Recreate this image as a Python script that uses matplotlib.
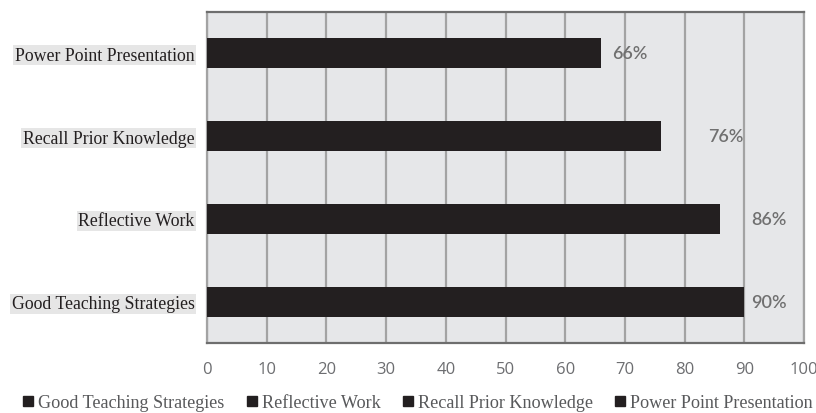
import numpy as np
import matplotlib
matplotlib.use("Agg")
import matplotlib.pyplot as plt
from matplotlib.lines import Line2D

# data (bottom to top)
categories = ["Good Teaching Strategies", "Reflective Work",
              "Recall Prior Knowledge", "Power Point Presentation"]
values = [90, 86, 76, 66]
value_labels = ["90%", "86%", "76%", "66%"]
xticks = [0, 10, 20, 30, 40, 50, 60, 70, 80, 90, 100]

# label offsets (pixels right of bar end), as in the original
label_offsets = [7, 31, 47, 11]

bar_color = "#231F20"
grid_color = "#A3A3A3"
text_gray = "#707070"

fig = plt.figure(figsize=(8.16, 4.14), dpi=100)
ax = fig.add_axes([207/816, 1 - 344/414, (804 - 207)/816, (344 - 13)/414])
ax.set_facecolor("#E6E7E9")

y = np.arange(len(categories))
ax.barh(y, values, height=0.36, color=bar_color, zorder=3)

ax.set_xlim(0, 100)
ax.set_ylim(-0.5, 3.5)
ax.set_xticks(xticks)
ax.set_xticklabels([str(t) for t in xticks], family="Open Sans", fontsize=12,
                   fontweight="normal", color="#6D6E71")
ax.tick_params(axis="x", length=0, pad=13)
ax.tick_params(axis="y", length=0, pad=9)
ax.set_yticks(y)
ax.set_yticklabels(categories, family="Liberation Serif", fontsize=12.8,
                   color="#231F20")
for t in ax.get_yticklabels():
    t.set_bbox(dict(facecolor="#E6E6E6", edgecolor="none", pad=1.2))

ax.grid(axis="x", color=grid_color, linewidth=1.6, zorder=1)
ax.grid(axis="y", visible=False)

for s in ["top", "bottom"]:
    ax.spines[s].set_color("#6E6E6E")
    ax.spines[s].set_linewidth(1.6)
for s in ["left", "right"]:
    ax.spines[s].set_color(grid_color)
    ax.spines[s].set_linewidth(1.6)

for yi, v, lab, off in zip(y, values, value_labels, label_offsets):
    ax.annotate(lab, xy=(v, yi), xytext=(off * 0.72, 0), textcoords="offset points",
                ha="left", va="center", family="Lato", fontsize=13,
                fontweight="semibold", color=text_gray, zorder=4)

handles = [Line2D([], [], marker="s", linestyle="none", markersize=7,
                  color=bar_color) for _ in categories]
fig.legend(handles, categories, loc="lower center", ncol=4, frameon=False,
           bbox_to_anchor=(0.507, -0.035), handletextpad=-0.2, columnspacing=0.75,
           handlelength=1.5,
           prop={"family": "Liberation Serif", "size": 13.1},
           labelcolor="#58595B")

fig.savefig("out.png", dpi=100)
